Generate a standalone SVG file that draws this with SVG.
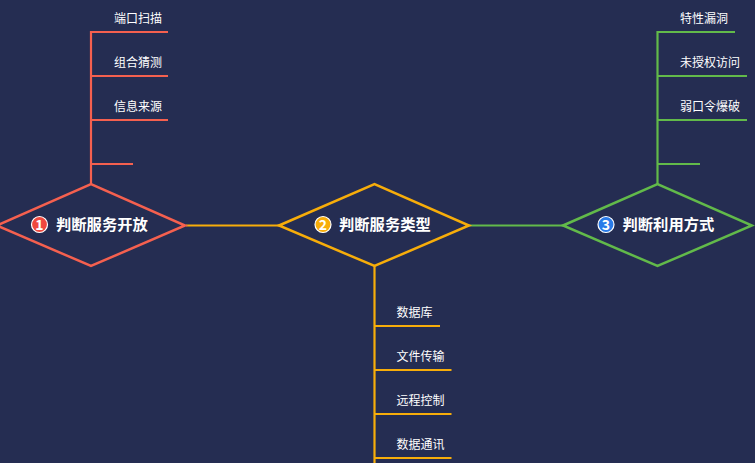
<svg xmlns="http://www.w3.org/2000/svg" width="755" height="463" viewBox="0 0 755 463">
<style>
text{font-family:"Noto Sans CJK SC","Noto Sans",sans-serif}
.t{font-size:15.300px;font-weight:700;fill:#fff}
.s{font-size:12px;fill:#fff}
.n{font-size:14px;font-weight:700;fill:#fff;text-anchor:middle}
.l{fill:none;stroke-width:2.200}
.d{fill:#252d52;stroke-width:2.500}
.b{stroke:#fff;stroke-width:1.200}
.r{stroke:#f5604f}.y{stroke:#f7ad0a}.g{stroke:#62ba4a}
</style>
<rect width="755" height="463" fill="#252d52"/>
<g id="connectors">
<path class="l r" d="M91 184V32H168M91 76H168M91 120H168M91 164H133"/>
<path class="l y" d="M186 225.500H279"/>
<path class="l g" d="M469 225.500H563"/>
<path class="l y" d="M374.500 266V463M374.500 326H440M374.500 370H451.500M374.500 414H451.500M374.500 458H451.500"/>
<path class="l g" d="M657.500 184V32H735M657.500 76H747M657.500 120H747M657.500 164H700"/>
</g>
<g id="node1"><polygon class="d r" points="-3,225.500 91,184 185,225.500 91,266"/><circle cx="39.500" cy="224.500" r="8" fill="#f0483e" class="b"/><text class="n" x="39.500" y="229.500">1</text><text class="t" x="56" y="230">判断服务开放</text></g>
<g id="node2"><polygon class="d y" points="279,225.500 374.500,184 469,225.500 374.500,266"/><circle cx="323" cy="224.500" r="8" fill="#f7ad0a" class="b"/><text class="n" x="323" y="229.500">2</text><text class="t" x="339" y="230">判断服务类型</text></g>
<g id="node3"><polygon class="d g" points="563,225.500 657.500,184 752,225.500 657.500,266"/><circle cx="606" cy="224.500" r="8" fill="#2a7be8" class="b"/><text class="n" x="606" y="229.500">3</text><text class="t" x="622.500" y="230">判断利用方式</text></g>
<g id="leaf1"><text class="s" x="114" y="23">端口扫描</text></g>
<g id="leaf2"><text class="s" x="114" y="67">组合猜测</text></g>
<g id="leaf3"><text class="s" x="114" y="111">信息来源</text></g>
<g id="leaf4"><text class="s" x="396.500" y="317">数据库</text></g>
<g id="leaf5"><text class="s" x="396.500" y="361">文件传输</text></g>
<g id="leaf6"><text class="s" x="396.500" y="405">远程控制</text></g>
<g id="leaf7"><text class="s" x="396.500" y="449">数据通讯</text></g>
<g id="leaf8"><text class="s" x="680" y="23">特性漏洞</text></g>
<g id="leaf9"><text class="s" x="680" y="67">未授权访问</text></g>
<g id="leaf10"><text class="s" x="680" y="111">弱口令爆破</text></g>
</svg>
